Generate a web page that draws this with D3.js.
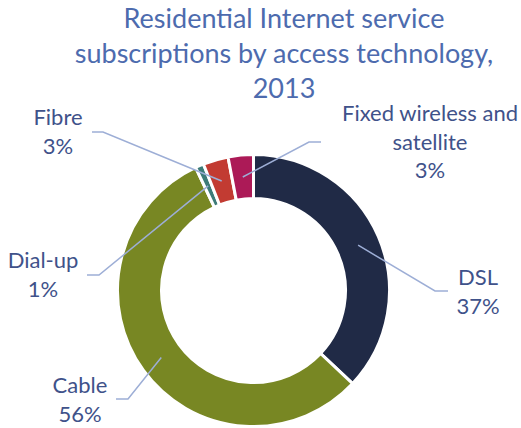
<!DOCTYPE html>
<html>
<head>
<meta charset="utf-8">
<script src="https://cdn.jsdelivr.net/npm/d3@7/dist/d3.min.js"></script>
<style>
  html, body { margin: 0; padding: 0; background: #fff; }
  svg text { font-family: Lato, "Open Sans", sans-serif; }
</style>
</head>
<body>
<script>
// Residential Internet service subscriptions by access technology, 2013
const categories = ["DSL", "Cable", "Dial-up", "Fibre", "Fixed wireless and satellite"];
const shares = [37, 56, 1, 3, 3];               // percent of subscriptions
const labelLines = [["DSL"], ["Cable"], ["Dial-up"], ["Fibre"], ["Fixed wireless and", "satellite"]];
const colors = ["#202A46", "#788723", "#3D7B78", "#C23B32", "#AC1A57"];
const titleLines = ["Residential Internet service", "subscriptions by access technology,", "2013"];

const W = 521, H = 428;
const cx = 253.5, cy = 290.5, rOuter = 136, rInner = 92;

// label anchors: text centre x, first baseline y, elbow of leader line, leader end near text
const labelLayout = [
  { x: 478, y: 285, elbow: [435, 291], end: [448, 291] },
  { x: 80,  y: 393, elbow: [128, 399], end: [116, 399] },
  { x: 43,  y: 268, elbow: [99, 275],  end: [87, 275] },
  { x: 58,  y: 125, elbow: [103, 132], end: [92, 132] },
  { x: 430, y: 121, elbow: [309, 142], end: [321, 142] }
];

const svg = d3.select("body").append("svg")
  .attr("width", W).attr("height", H);

// title
svg.append("g").selectAll("text").data(titleLines).join("text")
  .attr("x", 284)
  .attr("y", (d, i) => 28 + i * 35)
  .attr("text-anchor", "middle")
  .attr("font-size", 27)
  .attr("fill", "#4D6BAE")
  .text(d => d);

const rows = categories.map((c, i) => ({ name: c, value: shares[i], color: colors[i], lines: labelLines[i], layout: labelLayout[i] }));

const pie = d3.pie().sort(null).value(d => d.value).startAngle(0).endAngle(2 * Math.PI);
const arc = d3.arc().innerRadius(rInner).outerRadius(rOuter);
const arcs = pie(rows);

const g = svg.append("g").attr("transform", `translate(${cx},${cy})`);

g.selectAll("path.slice").data(arcs).join("path")
  .attr("class", "slice")
  .attr("d", arc)
  .attr("fill", d => d.data.color)
  .attr("stroke", "#fff")
  .attr("stroke-width", 3)
  .attr("stroke-linejoin", "miter");

// leader lines from slice centroid to label
svg.append("g").selectAll("polyline").data(arcs).join("polyline")
  .attr("points", d => {
    const [px, py] = arc.centroid(d);
    const L = d.data.layout;
    return [[cx + px, cy + py], L.elbow, L.end].map(p => p.join(",")).join(" ");
  })
  .attr("fill", "none")
  .attr("stroke", "#9DAED6")
  .attr("stroke-width", 1.5);

// labels
const lab = svg.append("g").selectAll("text").data(arcs).join("text")
  .attr("text-anchor", "middle")
  .attr("font-size", 22)
  .attr("fill", "#3F528A");

lab.each(function(d) {
  const t = d3.select(this);
  const L = d.data.layout;
  const lines = d.data.lines.concat([d3.format(".0f")(d.data.value) + "%"]);
  lines.forEach((s, i) => {
    t.append("tspan").attr("x", L.x).attr("y", L.y + i * 28.5).text(s);
  });
});
</script>
</body>
</html>
